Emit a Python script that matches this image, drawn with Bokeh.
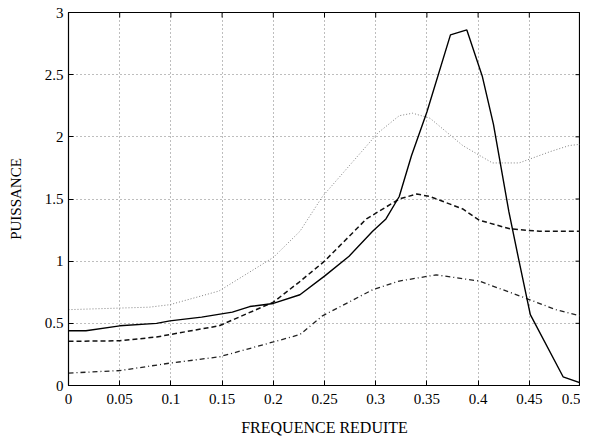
import math
from bokeh.plotting import figure
from bokeh.models import FixedTicker, Range1d
from bokeh.embed import file_html
from bokeh.resources import INLINE

# --- data ---
x_solid = [0.0, 0.017, 0.05, 0.086, 0.099, 0.13, 0.16, 0.177, 0.2, 0.226, 0.25, 0.274, 0.297, 0.31,
           0.323, 0.335, 0.35, 0.373, 0.389, 0.404, 0.415, 0.43, 0.44, 0.451, 0.483, 0.5]
y_solid = [0.44, 0.44, 0.48, 0.50, 0.52, 0.55, 0.59, 0.635, 0.66, 0.73, 0.88, 1.04, 1.24, 1.34,
           1.52, 1.85, 2.2, 2.82, 2.86, 2.49, 2.1, 1.4, 1.0, 0.57, 0.07, 0.02]

x_dash = [0.0, 0.05, 0.086, 0.099, 0.147, 0.2, 0.225, 0.25, 0.291, 0.323, 0.34, 0.353, 0.385,
          0.401, 0.431, 0.46, 0.5]
y_dash = [0.355, 0.36, 0.39, 0.41, 0.48, 0.67, 0.83, 1.0, 1.34, 1.5, 1.54, 1.52, 1.42,
          1.33, 1.26, 1.24, 1.24]

x_dot = [0.0, 0.079, 0.099, 0.147, 0.2, 0.226, 0.248, 0.302, 0.323, 0.336, 0.353, 0.385, 0.414,
         0.44, 0.47, 0.489, 0.5]
y_dot = [0.61, 0.63, 0.65, 0.76, 1.03, 1.24, 1.52, 2.03, 2.17, 2.19, 2.15, 1.93, 1.79,
         1.79, 1.88, 1.93, 1.94]

x_dashdot = [0.0, 0.05, 0.099, 0.147, 0.2, 0.226, 0.248, 0.297, 0.323, 0.359, 0.401, 0.444, 0.476, 0.5]
y_dashdot = [0.10, 0.12, 0.18, 0.23, 0.35, 0.41, 0.56, 0.77, 0.84, 0.89, 0.84, 0.71, 0.61, 0.56]

x_ticks = [0, 0.05, 0.1, 0.15, 0.2, 0.25, 0.3, 0.35, 0.4, 0.45, 0.5]
x_tick_labels = ["0", "0.05", "0.1", "0.15", "0.2", "0.25", "0.3", "0.35", "0.4", "0.45", "0.5"]
y_ticks = [0, 0.5, 1, 1.5, 2, 2.5, 3]
y_tick_labels = ["0", "0.5", "1", "1.5", "2", "2.5", "3"]

X_MIN, X_MAX = 0, 0.5
Y_MIN, Y_MAX = 0, 3

FONT = "Liberation Serif"

p = figure(width=580, height=441, output_backend="svg", toolbar_location=None,
           x_range=Range1d(X_MIN, X_MAX), y_range=Range1d(Y_MIN, Y_MAX),
           min_border_left=68, min_border_right=0, min_border_top=12, min_border_bottom=56,
           x_axis_label="FREQUENCE REDUITE", y_axis_label="PUISSANCE")
p.background_fill_color = "white"
p.border_fill_color = "white"
p.outline_line_color = "black"
p.outline_line_width = 1.2

p.xaxis.ticker = FixedTicker(ticks=x_ticks)
p.yaxis.ticker = FixedTicker(ticks=y_ticks)
p.xaxis.major_label_overrides = {t: l for t, l in zip(x_ticks, x_tick_labels)}
p.yaxis.major_label_overrides = {t: l for t, l in zip(y_ticks, y_tick_labels)}

for ax in [p.xaxis[0], p.yaxis[0]]:
    ax.major_tick_in = 5
    ax.major_tick_out = 0
    ax.minor_tick_line_color = None
    ax.axis_line_color = "black"
    ax.major_tick_line_color = "black"
    ax.major_label_text_font = FONT
    ax.major_label_text_font_size = "15px"
    ax.major_label_text_color = "black"
    ax.axis_label_text_font = FONT
    ax.axis_label_text_font_style = "normal"
    ax.axis_label_text_color = "black"

p.xaxis.axis_label_text_font_size = "16px"
p.yaxis.axis_label_text_font_size = "15px"
p.xaxis.major_label_standoff = 8
p.yaxis.major_label_standoff = 5
p.xaxis.axis_label_standoff = 12
p.yaxis.axis_label_standoff = 18

for g in (p.xgrid[0], p.ygrid[0]):
    g.grid_line_color = "#444444"
    g.grid_line_dash = "1 3"
    g.grid_line_width = 1
    g.grid_line_alpha = 0.7

# inward ticks on the top and right edges (markers clipped by the frame)
p.scatter(x_ticks, [Y_MAX] * len(x_ticks), marker="dash", size=10, angle=math.pi / 2,
          line_color="black", line_width=1)
p.scatter([X_MAX] * len(y_ticks), y_ticks, marker="dash", size=10, angle=0,
          line_color="black", line_width=1)

p.line(x_dot, y_dot, line_color="#808080", line_width=1, line_dash="1 2")
p.line(x_dashdot, y_dashdot, line_color="#222222", line_width=1.3, line_dash="5 3 1 3")
p.line(x_dash, y_dash, line_color="#111111", line_width=1.5, line_dash="5 3")
p.line(x_solid, y_solid, line_color="black", line_width=1.4)

open("out.html", "w").write(file_html(p, INLINE))
